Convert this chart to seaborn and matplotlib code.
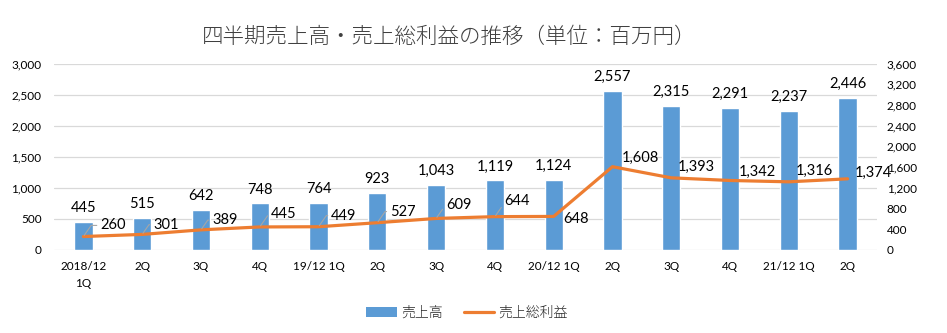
import matplotlib
matplotlib.use("Agg")
import matplotlib.pyplot as plt
from matplotlib.lines import Line2D
from matplotlib.patches import Patch
import seaborn as sns
import pandas as pd

# Quarterly figures (unit: million yen)
quarters = ["2018/12\n1Q", "2Q", "3Q", "4Q", "19/12 1Q", "2Q", "3Q", "4Q",
            "20/12 1Q", "2Q", "3Q", "4Q", "21/12 1Q", "2Q"]
sales = [445, 515, 642, 748, 764, 923, 1043, 1119, 1124, 2557, 2315, 2291, 2237, 2446]
gross_profit = [260, 301, 389, 445, 449, 527, 609, 644, 648, 1608, 1393, 1342, 1316, 1374]

# Label offsets for the gross-profit points (points), and which get a leader line
gp_offsets = [(12, 8), (8, 7), (8, 7), (8, 9), (9, 8), (9, 8), (7, 10), (7, 11),
              (7, -2), (7, 6), (5, 8), (6, 6), (5, 8), (5, 4)]
gp_leader = [True, True, True, True, True, True, True, True,
             False, False, False, False, False, False]

BAR = "#5B9BD5"
LINE = "#ED7D31"
GRID = "#D9D9D9"
TXT = "#000000"

sns.set_theme(style="white")
plt.rcParams["font.family"] = ["Lato", "Noto Sans CJK JP", "DejaVu Sans"]

df = pd.DataFrame({"idx": range(len(quarters)), "sales": sales, "gp": gross_profit})

fig = plt.figure(figsize=(9.47, 3.33), dpi=100)
ax = fig.add_axes([54 / 947, 1 - 250 / 333, (877 - 54) / 947, (250 - 63.5) / 333])

sns.barplot(data=df, x="idx", y="sales", color=BAR, width=0.31, saturation=1,
            ax=ax, zorder=2)
ax.set_ylim(0, 3000)
ax.set_yticks(range(0, 3001, 500))
ax.set_yticklabels([f"{v:,}" for v in range(0, 3001, 500)])
ax.yaxis.grid(True, color=GRID, lw=0.9)
ax.set_axisbelow(True)
for s in ax.spines.values():
    s.set_visible(False)
ax.set_xlim(-0.5, len(quarters) - 0.5)
ax.set_xticks(range(len(quarters)))
ax.set_xticklabels(quarters, fontsize=8.5, color=TXT, linespacing=1.7)
ax.tick_params(axis="x", length=0, pad=8)
ax.tick_params(axis="y", length=0, pad=9, labelsize=8.5, labelcolor=TXT)
ax.set_xlabel("")
ax.set_ylabel("")

ax.bar_label(ax.containers[0], labels=[f"{v:,}" for v in sales], padding=5,
             fontsize=10.5, color=TXT)

ax2 = ax.twinx()
sns.lineplot(data=df, x="idx", y="gp", color=LINE, lw=2.3, ax=ax2, zorder=3)
ax2.set_ylim(0, 3600)
ax2.set_yticks(range(0, 3601, 400))
ax2.set_yticklabels([f"{v:,}" for v in range(0, 3601, 400)])
ax2.tick_params(axis="y", length=0, pad=7, labelsize=8.5, labelcolor=TXT)
ax2.set_ylabel("")
for s in ax2.spines.values():
    s.set_visible(False)
ax2.set_xlim(-0.5, len(quarters) - 0.5)

for i, (v, off, lead) in enumerate(zip(gross_profit, gp_offsets, gp_leader)):
    arrow = None
    if lead:
        arrow = dict(arrowstyle="-", color="#A6A6A6", lw=0.8, shrinkA=0, shrinkB=1,
                     connectionstyle="angle,angleA=0,angleB=55,rad=0")
    ax2.annotate(f"{v:,}", xy=(i, v), xytext=off, textcoords="offset points",
                 ha="left", va="center", fontsize=10.5, color=TXT,
                 arrowprops=arrow, zorder=4)

fig.text(449 / 947, 1 - 37 / 333, "四半期売上高・売上総利益の推移（単位：百万円）",
         ha="center", va="center", fontsize=15.5, color="#404040",
         family=["Noto Sans CJK JP"], fontweight="light")

handles = [Patch(facecolor=BAR, edgecolor="none"),
           Line2D([0], [0], color=LINE, lw=2.3)]
fig.legend(handles, ["売上高", "売上総利益"], loc="center",
           bbox_to_anchor=(467 / 947, 1 - 313 / 333), ncol=2, frameon=False,
           handlelength=2.2, columnspacing=1.5, handletextpad=0.3,
           prop={"family": ["Noto Sans CJK JP"], "size": 10, "weight": "light"})

fig.savefig("out.png", dpi=100)
